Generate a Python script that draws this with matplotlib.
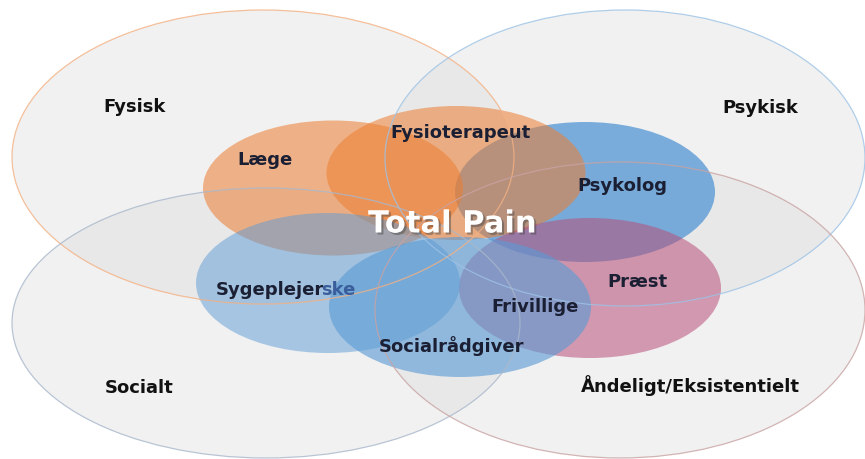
"""
Total Pain - overlapping dimensions and professions (Venn style diagram)
"""
import matplotlib
matplotlib.use('Agg')
import matplotlib.pyplot as plt
import matplotlib.patheffects as pe
from matplotlib.patches import Ellipse

# Dimensions (large ellipses)
dimensions = ['Fysisk', 'Psykisk', 'Socialt', 'Åndeligt/Eksistentielt']
dim_centers = [(263, 157), (625, 158), (266, 323), (620, 310)]
dim_sizes = [(502, 294), (480, 296), (508, 270), (490, 296)]
dim_edges = ['#F4B183', '#9DC3E6', '#A9B8CC', '#C9A3A3']
dim_label_pos = [(135, 107), (760, 108), (139, 388), (690, 386)]

# Professions (small ellipses), listed in drawing order
professions = ['Psykolog', 'Fysioterapeut', 'Læge', 'Præst', 'Sygeplejerske', 'Socialrådgiver']
prof_centers = [(585, 192), (456, 173), (333, 188), (590, 288), (328, 283), (460, 307)]
prof_sizes = [(260, 140), (259, 134), (260, 135), (262, 140), (264, 140), (262, 140)]
prof_colors = ['#5B9BD5', '#ED7D31', '#ED7D31', '#B84F7A', '#5B9BD5', '#5B9BD5']
prof_alpha = [0.8, 0.55, 0.55, 0.55, 0.5, 0.62]
prof_label_pos = [(622, 186), (460, 133), (265, 160), (637, 282), (288, 290), (452, 346)]

extra_label = 'Frivillige'
extra_pos = (535, 307)
center_label = 'Total Pain'
center_pos = (452, 224)

FONT = 'DejaVu Sans'
LABEL_COLOR = '#1B1F33'

W, H = 865, 459
fig = plt.figure(figsize=(W / 100, H / 100), dpi=100)
ax = fig.add_axes([0, 0, 1, 1])
ax.set_xlim(0, W)
ax.set_ylim(H, 0)
ax.axis('off')

# big ellipses: fills first
for (cx, cy), (w, h) in zip(dim_centers, dim_sizes):
    ax.add_patch(Ellipse((cx, cy), w, h, facecolor='#DCDCDC', alpha=0.4,
                         edgecolor='none', zorder=1))

# small ellipses
for (cx, cy), (w, h), col, a in zip(prof_centers, prof_sizes, prof_colors, prof_alpha):
    ax.add_patch(Ellipse((cx, cy), w, h, facecolor=col, alpha=a,
                         edgecolor='none', zorder=2))

# big ellipse outlines on top
for (cx, cy), (w, h), ec in zip(dim_centers, dim_sizes, dim_edges):
    ax.add_patch(Ellipse((cx, cy), w, h, facecolor='none', edgecolor=ec,
                         linewidth=0.9, alpha=0.8, zorder=3))

for name, (x, y) in zip(dimensions, dim_label_pos):
    ax.text(x, y, name, ha='center', va='center', fontsize=13,
            fontweight='bold', family=FONT, color='#111111', zorder=5)

for name, (x, y) in zip(professions, prof_label_pos):
    if name == 'Sygeplejerske':
        # last syllable is coloured differently in the original
        split_x = x + 36
        ax.text(split_x, y + 5, name[:-3], ha='right', va='baseline', fontsize=13,
                fontweight='bold', family=FONT, color=LABEL_COLOR, zorder=5)
        ax.text(split_x - 3, y + 5, name[-3:], ha='left', va='baseline', fontsize=13,
                fontweight='bold', family=FONT, color='#3A5E9C', zorder=5)
        continue
    ax.text(x, y, name, ha='center', va='center', fontsize=13,
            fontweight='bold', family=FONT, color=LABEL_COLOR, zorder=5)

ax.text(extra_pos[0], extra_pos[1], extra_label, ha='center', va='center',
        fontsize=13, fontweight='bold', family=FONT, color=LABEL_COLOR, zorder=5)

ax.text(center_pos[0], center_pos[1], center_label, ha='center', va='center',
        fontsize=22, fontweight='bold', family=FONT, color='white', zorder=6,
        path_effects=[pe.SimplePatchShadow(offset=(1.5, -1.5), shadow_rgbFace='#444444',
                                           alpha=0.45), pe.Normal()])

fig.savefig('out.png', dpi=100, facecolor='white')
